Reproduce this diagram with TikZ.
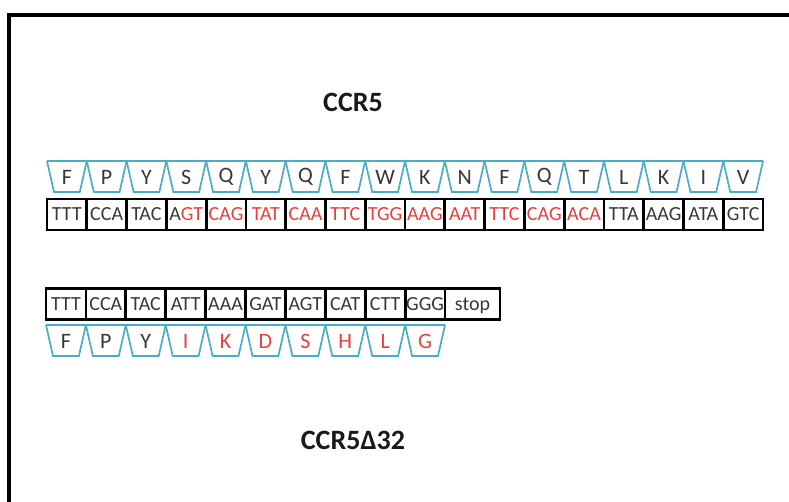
\documentclass[tikz,border=0pt]{standalone}
\usepackage{fontspec}
\setmainfont{Carlito}
\definecolor{trap}{RGB}{75,172,198}
\definecolor{mut}{RGB}{232,62,62}
\definecolor{ink}{RGB}{55,55,55}
\begin{document}
\begin{tikzpicture}[x=1pt,y=-1pt,
  codon/.style={draw=black, line width=2.8pt, minimum height=31pt, inner sep=0pt,
    text height=12.5pt, text depth=0pt, font=\fontsize{20}{20}\selectfont},
  aa/.style={font=\fontsize{22}{22}\selectfont, inner sep=0pt},
  trapline/.style={draw=trap, line width=1.7pt, line join=miter},
  title/.style={font=\bfseries\fontsize{28}{28}\selectfont, text=black!90}]
\useasboundingbox (0,0) rectangle (789,502);
\draw[line width=4pt] (9,502) -- (9,15) -- (789,15);

\node[title] (ccr5) at (353,102) {CCR5};
\node[title] (delta) at (353,440) {CCR5Δ32};

% top amino acids
\def\pp{39.78}
\foreach \a/\c [count=\i from 0] in {F/ink,P/ink,Y/ink,S/ink,Q/ink,Y/ink,Q/ink,F/ink,W/ink,K/ink,N/ink,F/ink,Q/ink,T/ink,L/ink,K/ink,I/ink,V/ink} {
  \pgfmathsetmacro\xl{47+\i*\pp}
  \draw[trapline] (\xl,161) -- (\xl+7,192) -- (\xl+\pp-7,192) -- (\xl+\pp,161);
  \node[aa, text=\c] (ta\i) at (\xl+\pp/2,177) {\a};
}
\draw[trapline] (47,161) -- (763,161);

% top codons
\foreach \t/\c [count=\i from 0] in {TTT/ink,CCA/ink,TAC/ink,{A\textcolor{mut}{GT}}/ink,CAG/mut,TAT/mut,CAA/mut,TTC/mut,TGG/mut,AAG/mut,AAT/mut,TTC/mut,CAG/mut,ACA/mut,TTA/ink,AAG/ink,ATA/ink,GTC/ink} {
  \pgfmathsetmacro\xc{47+(\i+0.5)*\pp}
  \node[codon, minimum width=\pp pt, text=\c] (tc\i) at (\xc,214.5) {\t};
}

% bottom codons
\def\qq{39.9}
\foreach \t [count=\i from 0] in {TTT,CCA,TAC,ATT,AAA,GAT,AGT,CAT,CTT,GGG} {
  \pgfmathsetmacro\xc{46+(\i+0.5)*\qq}
  \node[codon, minimum width=\qq pt, text=ink] (bc\i) at (\xc,304) {\t};
}
\node[codon, minimum width=55pt, text=ink] (stop) at (472.5,304) {stop};

% bottom amino acids
\foreach \a/\c [count=\i from 0] in {F/ink,P/ink,Y/ink,I/mut,K/mut,D/mut,S/mut,H/mut,L/mut,G/mut} {
  \pgfmathsetmacro\xl{46+\i*\qq}
  \draw[trapline] (\xl,325) -- (\xl+7,356) -- (\xl+\qq-7,356) -- (\xl+\qq,325);
  \node[aa, text=\c] (ba\i) at (\xl+\qq/2,341) {\a};
}
\draw[trapline] (46,325) -- (445,325);
\end{tikzpicture}
\end{document}
